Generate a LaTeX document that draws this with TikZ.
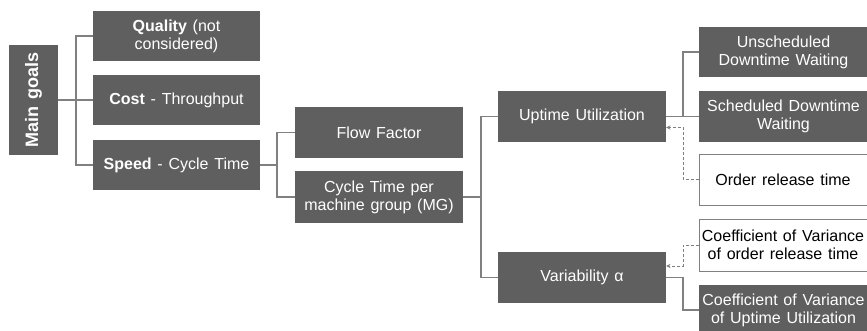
\documentclass[tikz,border=0pt]{standalone}
\usepackage{fontspec}
\setmainfont[WordSpace=1.3]{Liberation Sans}
\definecolor{boxgray}{RGB}{95,95,95}
\definecolor{linegray}{RGB}{128,128,128}
\tikzstyle{darkbox}=[fill=boxgray,text=white,minimum width=168pt,minimum height=51pt,inner sep=0pt,align=center,font=\fontsize{16}{18}\selectfont]
\tikzstyle{lightbox}=[darkbox,fill=white,draw=linegray,line width=0.8pt,text=black]
\tikzstyle{link}=[linegray,line width=1.2pt]
\tikzstyle{hint}=[linegray,line width=0.9pt,dash pattern=on 3pt off 2pt,-stealth]

\begin{document}
\begin{tikzpicture}[x=1pt,y=1pt]
\useasboundingbox (0,0) rectangle (867,-331);
\clip (0,0) rectangle (867,-331);
  \node[darkbox,rotate=90,minimum width=110pt,minimum height=49pt,font=\fontsize{18}{20}\selectfont\bfseries] (goals) at (33.5,-100) {Main goals};
  \node[darkbox,minimum width=167pt,minimum height=50pt] (quality) at (176.5,-36) {\textbf{Quality} (not\\considered)};
  \node[darkbox,minimum width=167pt,minimum height=50pt] (cost) at (176.5,-100) {\textbf{Cost} - Throughput};
  \node[darkbox,minimum width=167pt,minimum height=50pt] (speed) at (176.5,-165) {\textbf{Speed} - Cycle Time};
  \node[darkbox] (flow) at (379,-132.5) {Flow Factor};
  \node[darkbox] (ctmg) at (379,-197) {Cycle Time per\\machine group (MG)};
  \node[darkbox] (uptime) at (582,-116.5) {Uptime Utilization};
  \node[darkbox] (variab) at (582,-277.5) {Variability α};
  \node[darkbox,minimum width=169pt,minimum height=50pt] (unsched) at (783.5,-52) {Unscheduled\\Downtime Waiting};
  \node[darkbox,minimum width=169pt] (sched) at (783.5,-116.5) {Scheduled Downtime\\Waiting};
  \node[lightbox,minimum width=168pt] (order) at (783,-179.5) {Order release time};
  \node[lightbox,minimum width=168pt,minimum height=52pt] (covorder) at (783,-245) {Coefficient of Variance\\of order release time};
  \node[darkbox,minimum width=169pt,minimum height=50pt] (covutil) at (783.5,-310) {Coefficient of Variance\\of Uptime Utilization};

% tree links
\coordinate (j1) at (76,-100);
\coordinate (j2) at (277,-165);
\coordinate (j3) at (481,-197);
\coordinate (j4) at (683,-116.5);
\coordinate (j5) at (683,-310);
\draw[link] (goals.south) -- (j1);
\draw[link] (j1) |- (quality.west);
\draw[link] (j1) -- (cost.west);
\draw[link] (j1) |- (speed.west);
\draw[link] (speed.east) -- (j2);
\draw[link] (j2) |- (flow.west);
\draw[link] (j2) |- (ctmg.west);
\draw[link] (ctmg.east) -- (j3);
\draw[link] (j3) |- (uptime.west);
\draw[link] (j3) |- (variab.west);
\draw[link] (uptime.east) -- (sched.west);
\draw[link] (j4) |- (unsched.west);
\draw[link] (variab.east) -| (j5) -- (covutil.west);

% dashed hints
\coordinate (d1) at (683,-127.5);
\coordinate (d2) at (683,-266);
\draw[hint] (order.west) -| (d1) -- (uptime.east |- d1);
\draw[hint] (covorder.west) -| (d2) -- (variab.east |- d2);
\end{tikzpicture}
\end{document}
